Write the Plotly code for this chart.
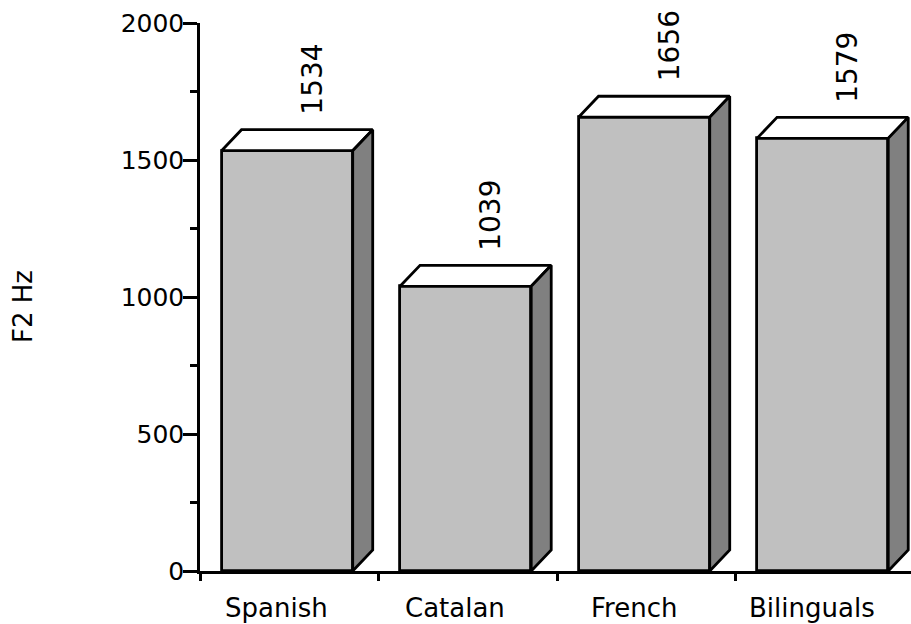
import plotly.graph_objects as go

# F2 formant means by speaker group
groups = ["Spanish", "Catalan", "French", "Bilinguals"]
f2_hz = [1534, 1039, 1656, 1579]

y_ticks = [0, 500, 1000, 1500, 2000]

FONT = "DejaVu Sans, Arial, sans-serif"
FRONT = "#C0C0C0"
SIDE = "#808080"
TOP = "#FFFFFF"
EDGE = "black"

# figure geometry (pixels) used to convert the 3-D depth into data units
W, H = 911, 624
M_L, M_R, M_T, M_B = 200, 0, 23, 53
X_RANGE = [-0.5, 3.483]
Y_RANGE = [0, 2000]
px_per_x = (W - M_L - M_R) / (X_RANGE[1] - X_RANGE[0])
px_per_y = (H - M_T - M_B) / (Y_RANGE[1] - Y_RANGE[0])

BAR_W = 0.735
BAR_SHIFT = -0.012
DEPTH_X = 20 / px_per_x
DEPTH_Y = 21 / px_per_y
EDGE_W = 2.8

xs = list(range(len(groups)))
centers = [x + BAR_SHIFT for x in xs]

fig = go.Figure()

# front faces
fig.add_trace(go.Bar(
    x=centers, y=f2_hz, width=BAR_W,
    marker=dict(color=FRONT, line=dict(color=EDGE, width=EDGE_W)),
    hoverinfo="skip", showlegend=False,
))

# top and side faces of each box
for i, (c, v) in enumerate(zip(centers, f2_hz)):
    l, r = c - BAR_W / 2, c + BAR_W / 2
    fig.add_trace(go.Scatter(
        x=[l, r, r + DEPTH_X, l + DEPTH_X, l],
        y=[v, v, v + DEPTH_Y, v + DEPTH_Y, v],
        mode="lines", fill="toself", fillcolor=TOP,
        line=dict(color=EDGE, width=EDGE_W),
        hoverinfo="skip", showlegend=False,
    ))
    fig.add_trace(go.Scatter(
        x=[r, r + DEPTH_X, r + DEPTH_X, r, r],
        y=[0, DEPTH_Y, v + DEPTH_Y, v, 0],
        mode="lines", fill="toself", fillcolor=SIDE,
        line=dict(color=EDGE, width=EDGE_W),
        hoverinfo="skip", showlegend=False,
    ))
    # value label above the box
    fig.add_annotation(
        x=xs[i] + 0.13, y=v + DEPTH_Y, xref="x", yref="y",
        text=str(v), textangle=-90, showarrow=False,
        xanchor="center", yanchor="bottom", yshift=13,
        font=dict(family=FONT, size=28, color="black"),
    )
    # category label under the axis
    fig.add_annotation(
        x=xs[i] - 0.07, y=0, xref="x", yref="y",
        text=groups[i], showarrow=False,
        xanchor="center", yanchor="top", yshift=-20,
        font=dict(family=FONT, size=26, color="black"),
    )

fig.add_annotation(
    x=0, y=0.5, xref="paper", yref="paper", xshift=-177, yshift=-10,
    text="F2 Hz", textangle=-90, showarrow=False,
    xanchor="center", yanchor="middle",
    font=dict(family=FONT, size=26, color="black"),
)

fig.update_layout(
    width=W, height=H,
    margin=dict(l=M_L, r=M_R, t=M_T, b=M_B, pad=0),
    paper_bgcolor="white", plot_bgcolor="white",
    font=dict(family=FONT, color="black"),
    xaxis=dict(
        range=X_RANGE, showgrid=False, zeroline=False,
        showline=True, linecolor="black", linewidth=2.5,
        tickmode="array", tickvals=[-0.5, 0.5, 1.5, 2.5, 3.5],
        ticktext=["", "", "", "", ""],
        ticks="outside", ticklen=7, tickwidth=2.5, tickcolor="black",
    ),
    yaxis=dict(
        range=Y_RANGE, showgrid=False, zeroline=False,
        showline=True, linecolor="black", linewidth=2.5,
        tickmode="array", tickvals=y_ticks,
        ticks="outside", ticklen=14, tickwidth=2.5, tickcolor="black",
        ticklabelstandoff=-6,
        tickfont=dict(family=FONT, size=25, color="black"),
        minor=dict(dtick=250, tick0=0, ticks="outside", ticklen=7,
                   tickwidth=2.5, tickcolor="black", showgrid=False),
    ),
    bargap=0,
)

fig.write_html("out.html")
